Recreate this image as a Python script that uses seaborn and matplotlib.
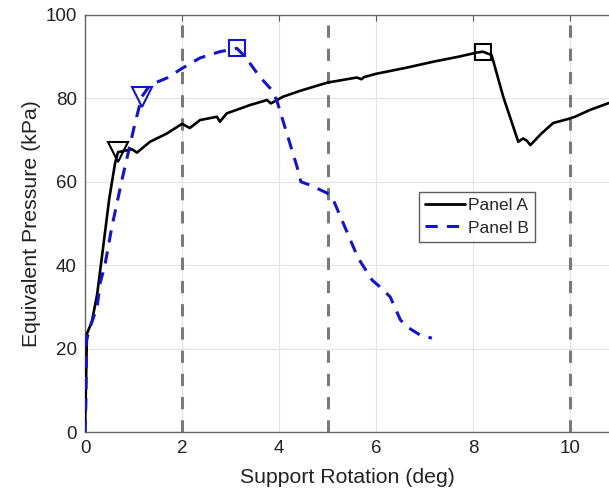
import matplotlib
matplotlib.use("Agg")
import matplotlib.pyplot as plt
from matplotlib.lines import Line2D
import seaborn as sns
import pandas as pd

# ---- data ----
panel_a_rot = [0, 0.02, 0.04, 0.14, 0.25, 0.37, 0.5, 0.62, 0.68, 0.8, 0.97, 1.07, 1.34, 1.69,
               2.0, 2.16, 2.37, 2.72, 2.78, 2.92, 3.4, 3.75, 3.83, 4.08, 4.43, 5.0, 5.6, 5.7,
               5.75, 6.0, 6.6, 7.18, 7.7, 8.08, 8.2, 8.38, 8.62, 8.93, 9.03, 9.1, 9.18, 9.4,
               9.65, 9.94, 10.1, 10.4, 10.8]
panel_a_pres = [0, 11.6, 23.6, 26.4, 33, 44, 56, 64.5, 67.1, 67.4, 67.8, 67.0, 69.6, 71.6,
                73.9, 72.9, 74.8, 75.6, 74.4, 76.4, 78.4, 79.6, 78.8, 80.4, 81.8, 83.8, 85.0, 84.6,
                85.1, 85.9, 87.3, 88.8, 90.0, 91.0, 91.2, 90.4, 80.4, 69.6, 70.4, 69.9, 68.8, 71.5,
                74.1, 75.0, 75.6, 77.2, 78.9]

panel_b_rot = [0, 0.02, 0.03, 0.1, 0.25, 0.31, 0.41, 0.55, 0.76, 1.03, 1.17, 1.34, 1.69, 2.0,
               2.37, 2.78, 3.13, 3.3, 3.6, 3.85, 3.95, 4.16, 4.37, 4.45, 4.64, 4.99, 5.12, 5.53,
               5.63, 5.92, 6.08, 6.29, 6.5, 6.64, 6.9, 7.15]
panel_b_pres = [0, 7.7, 22, 25, 30, 35.6, 40, 49, 60.4, 74, 80.4, 83.2, 84.9, 87.2,
                89.7, 91.2, 92.0, 90.0, 85.2, 82.0, 79.6, 71.6, 63.6, 60.0, 59.2, 57.3, 55.6, 44.4,
                41.7, 36.4, 34.8, 32.4, 26.9, 25.2, 23.3, 22.5]

# key points (yield / peak) marked on each curve
panel_a_marker_rot = [0.68, 8.2]
panel_a_marker_pres = [67.1, 91.2]
panel_b_marker_rot = [1.17, 3.13]
panel_b_marker_pres = [80.4, 92.0]

limit_rotations = [2, 5, 10]
series_names = ["Panel A", "Panel B"]
x_ticks = [0, 2, 4, 6, 8, 10]
y_ticks = [0, 20, 40, 60, 80, 100]

df = pd.concat([
    pd.DataFrame({"rot": panel_a_rot, "pres": panel_a_pres, "panel": series_names[0]}),
    pd.DataFrame({"rot": panel_b_rot, "pres": panel_b_pres, "panel": series_names[1]}),
], ignore_index=True)

sns.set_style("white")
plt.rcParams["font.family"] = ["Liberation Sans", "DejaVu Sans"]

BLUE = "#1414c8"
B_DASH = (0, (4.0, 3.0))

fig = plt.figure(figsize=(6.09, 4.93), dpi=100)
ax = fig.add_axes([0.1396, 0.1237, 0.8604, 0.8459])

for xv in limit_rotations:
    ax.axvline(xv, color="#7a7a7a", lw=2.2, ls=(0, (4.0, 3.6)), zorder=1)

colors = {"Panel A": "black", "Panel B": BLUE}
sns.lineplot(data=df, x="rot", y="pres", hue="panel", style="panel",
             palette=colors, sort=False, estimator=None, ax=ax, legend=False,
             zorder=3)
lines = ax.get_lines()[len(limit_rotations):]
lines[0].set_linestyle("-")
lines[0].set_linewidth(1.9)
lines[1].set_linestyle(B_DASH)
lines[1].set_linewidth(2.2)

ax.plot(panel_a_marker_rot[:1], panel_a_marker_pres[:1], marker="v", ms=15, mfc="none",
        mec="black", mew=1.5, ls="none", zorder=4)
ax.plot(panel_a_marker_rot[1:], panel_a_marker_pres[1:], marker="s", ms=11, mfc="none",
        mec="black", mew=1.5, ls="none", zorder=4)
ax.plot(panel_b_marker_rot[:1], panel_b_marker_pres[:1], marker="v", ms=15, mfc="none",
        mec=BLUE, mew=1.5, ls="none", zorder=4)
ax.plot(panel_b_marker_rot[1:], panel_b_marker_pres[1:], marker="s", ms=11, mfc="none",
        mec=BLUE, mew=1.5, ls="none", zorder=4)

ax.set_xlim(0, 10.8)
ax.set_ylim(0, 100)
ax.set_xticks(x_ticks)
ax.set_yticks(y_ticks)
ax.grid(True, color="#e3e3e3", lw=0.8, zorder=0)
ax.set_axisbelow(True)
ax.tick_params(direction="in", length=4, color="#555555", labelsize=13.5,
               top=True, right=False, labelcolor="#222222", pad=6)
for s in ["left", "bottom", "top"]:
    ax.spines[s].set_color("#666666")
    ax.spines[s].set_linewidth(1.0)
ax.spines["right"].set_visible(False)

ax.set_xlabel("Support Rotation (deg)", fontsize=15.3, color="#222222", labelpad=8)
ax.set_ylabel("Equivalent Pressure (kPa)", fontsize=15.3, color="#222222", labelpad=3)

handles = [Line2D([], [], color="black", lw=2.0, ls="-"),
           Line2D([], [], color=BLUE, lw=2.2, ls=B_DASH)]
leg = ax.legend(handles, series_names, loc="upper left", bbox_to_anchor=(0.637, 0.575),
                fontsize=12.5, frameon=True, fancybox=False, edgecolor="#333333",
                handlelength=2.3, handletextpad=0.2, borderpad=0.35, labelspacing=0.4,
                borderaxespad=0)
leg.get_frame().set_linewidth(1.0)

fig.savefig("out.png", dpi=100)
